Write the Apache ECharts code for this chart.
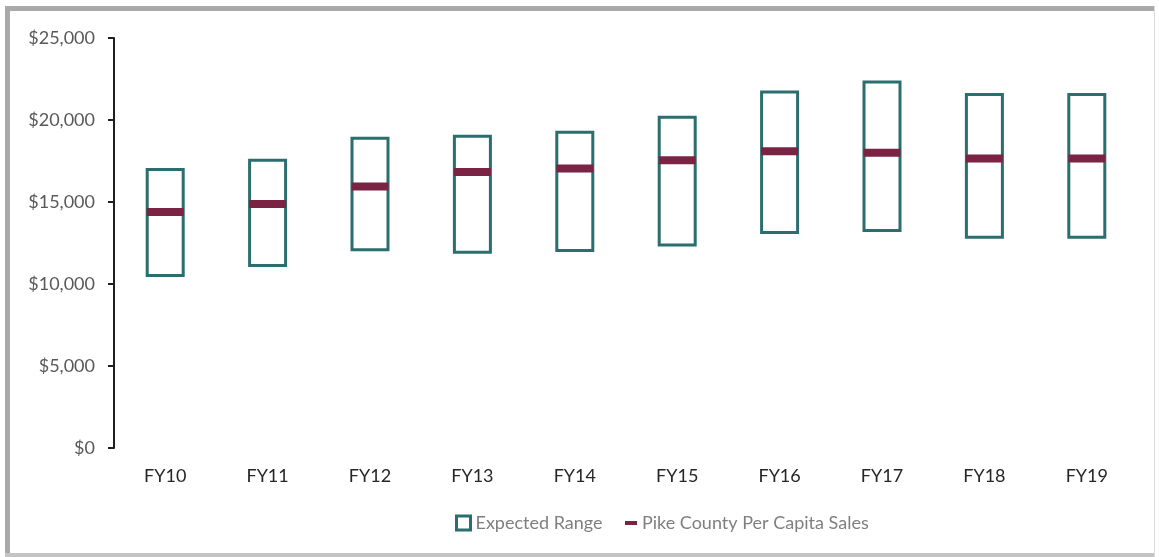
<!DOCTYPE html>
<html>
<head>
<meta charset="utf-8">
<script src="https://cdn.jsdelivr.net/npm/echarts@6/dist/echarts.min.js"></script>
<style>
html,body{margin:0;padding:0;background:#fff;}
#chart{width:1159px;height:557px;}
</style>
</head>
<body>
<div id="chart"></div>
<script>
const categories = ['FY10','FY11','FY12','FY13','FY14','FY15','FY16','FY17','FY18','FY19'];
const rangeLow  = [10430, 11040, 11990, 11850, 11950, 12290, 13050, 13170, 12760, 12760];
const rangeHigh = [17070, 17640, 18980, 19100, 19350, 20260, 21800, 22410, 21650, 21650];
const perCapitaSales = [14390, 14880, 15950, 16830, 17050, 17540, 18090, 18000, 17660, 17660];
const yTicks = [0, 5000, 10000, 15000, 20000, 25000];

const TEAL = '#2b6e6f';
const MAROON = '#7a2343';
const FONT = 'Lato';

const rangeSpan = rangeHigh.map((h, i) => h - rangeLow[i]);

const chart = echarts.init(document.getElementById('chart'), null, {renderer: 'canvas'});
chart.setOption({
  animation: false,
  backgroundColor: '#fff',
  textStyle: {fontFamily: FONT},
  graphic: [
    {type: 'rect', shape: {x: 5, y: 6, width: 1150, height: 5}, style: {fill: '#a9a9a9'}, silent: true},
    {type: 'rect', shape: {x: 5, y: 6, width: 5, height: 551}, style: {fill: '#a9a9a9'}, silent: true},
    {type: 'rect', shape: {x: 5, y: 553, width: 1150, height: 4}, style: {fill: '#c4c4c4'}, silent: true},
    {type: 'rect', shape: {x: 1154, y: 6, width: 1, height: 551}, style: {fill: '#dcdcdc'}, silent: true}
  ],
  grid: {left: 114, right: 21, top: 38, bottom: 109, containLabel: false},
  legend: [
    {
      left: 450, top: 509,
      itemWidth: 14, itemHeight: 14,
      textStyle: {color: '#7f7f7f', fontSize: 18, fontFamily: FONT},
      data: [{name: 'Expected Range', icon: 'rect', itemStyle: {color: '#fff', borderColor: TEAL, borderWidth: 3}}]
    },
    {
      left: 620, top: 509,
      itemWidth: 12, itemHeight: 4,
      textStyle: {color: '#7f7f7f', fontSize: 18, fontFamily: FONT},
      data: [{name: 'Pike County Per Capita Sales', icon: 'rect', itemStyle: {color: MAROON}}]
    }
  ],
  xAxis: {
    type: 'category',
    data: categories,
    axisLine: {show: false},
    axisTick: {show: false},
    axisLabel: {color: '#262626', fontSize: 18, margin: 19, fontFamily: FONT}
  },
  yAxis: {
    type: 'value',
    min: 0, max: 25000, interval: 5000,
    axisLine: {show: true, lineStyle: {color: '#1f1f1f', width: 2}},
    axisTick: {show: true, inside: false, length: 6, lineStyle: {color: '#1f1f1f', width: 2}},
    splitLine: {show: false},
    axisLabel: {
      color: '#595959', fontSize: 18, margin: 19, fontFamily: FONT,
      formatter: v => yTicks.includes(v) ? '$' + v.toLocaleString('en-US') : ''
    }
  },
  series: [
    {
      name: 'base', type: 'bar', stack: 'r', data: rangeLow,
      barWidth: 39, itemStyle: {color: 'rgba(0,0,0,0)'}, silent: true
    },
    {
      name: 'Expected Range', type: 'bar', stack: 'r', data: rangeSpan,
      barWidth: 39, itemStyle: {color: '#fff', borderColor: TEAL, borderWidth: 3}
    },
    {
      name: 'Pike County Per Capita Sales', type: 'scatter', data: perCapitaSales,
      symbol: 'rect', symbolSize: [37, 8], itemStyle: {color: MAROON, opacity: 1}, z: 5
    }
  ]
});
</script>
</body>
</html>
